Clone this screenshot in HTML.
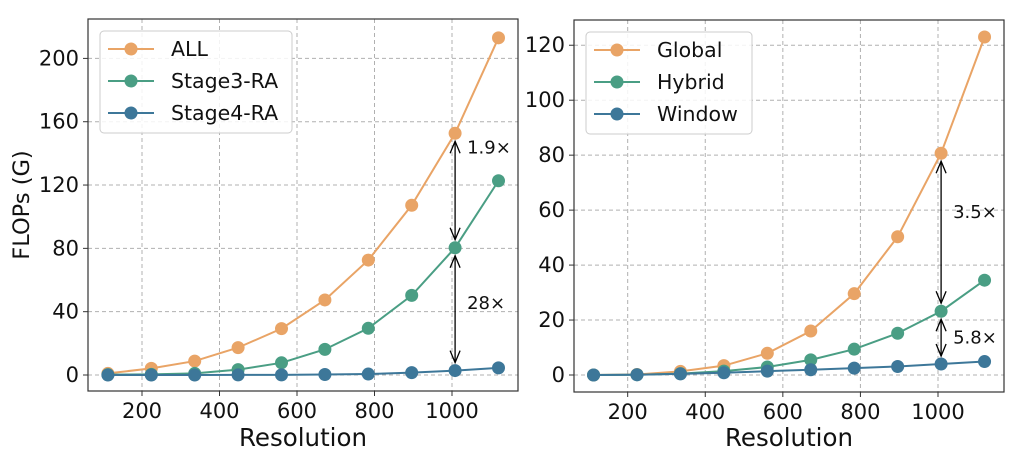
<!DOCTYPE html>
<html><head><meta charset="utf-8">
<style>
body{margin:0;background:#fff;}
svg{display:block;font-family:"DejaVu Sans","Liberation Sans",sans-serif;}
</style></head>
<body>
<svg id="chart" width="1030" height="460" viewBox="0 0 1030 460" xmlns="http://www.w3.org/2000/svg"></svg>
<script>
const resolutions=[112,224,336,448,560,672,784,896,1008,1120];
const leftAll=[1,4.2,8.8,17.3,29.3,47.4,72.6,107.2,152.7,213];
const leftStage3=[0.2,0.4,1,3.4,7.7,16.2,29.5,50.3,80.4,122.7];
const leftStage4=[0,0,0,0.05,0.1,0.3,0.6,1.5,2.8,4.5];
const rightGlobal=[0,0.2,1.3,3.4,7.9,16,29.6,50.3,80.7,123];
const rightHybrid=[0,0.1,0.5,1.4,2.9,5.5,9.4,15.2,23.2,34.5];
const rightWindow=[0,0.1,0.4,0.8,1.4,1.9,2.5,3.1,4.0,4.9];
const xTicks=[200,400,600,800,1000];
const leftYTicks=[0,40,80,120,160,200];
const rightYTicks=[0,20,40,60,80,100,120];
const leftNames=["ALL","Stage3-RA","Stage4-RA"];
const rightNames=["Global","Hybrid","Window"];
const colors=["#E9A466","#4A9E84","#3D7799"];

const svg=document.getElementById('chart');
const NS='http://www.w3.org/2000/svg';
function mk(tag,attrs,parent,text){const e=document.createElementNS(NS,tag);for(const k in attrs)e.setAttribute(k,attrs[k]);if(text!==undefined)e.textContent=text;(parent||svg).appendChild(e);return e;}

function panel(cfg){
  const g=mk('g',{});
  
  
  const xs=v=>cfg.x0+v*cfg.xk;
  const ys=v=>cfg.y0-v*cfg.yk;
  xTicks.forEach(t=>{
    const l=mk('line',{x1:xs(t),x2:xs(t),y1:cfg.top,y2:cfg.bot,stroke:'#b0b0b0','stroke-dasharray':'4,3','stroke-width':1},g);
    
    mk('line',{x1:xs(t),x2:xs(t),y1:cfg.bot,y2:cfg.bot+5,stroke:'#333'},g);
    const tx=mk('text',{x:xs(t),y:cfg.bot+27,'text-anchor':'middle','font-size':21,fill:'#111'},g,String(t));
    
  });
  cfg.yTicks.forEach(t=>{
    const l=mk('line',{x1:cfg.left,x2:cfg.right,y1:ys(t),y2:ys(t),stroke:'#b0b0b0','stroke-dasharray':'4,3','stroke-width':1},g);
    
    mk('line',{x1:cfg.left-5,x2:cfg.left,y1:ys(t),y2:ys(t),stroke:'#333'},g);
    const tx=mk('text',{x:cfg.left-9,y:ys(t)+7,'text-anchor':'end','font-size':21,fill:'#111'},g,String(t));
    
  });
  cfg.series.forEach((s,i)=>{
    const pts=resolutions.map((r,j)=>xs(r)+','+ys(s[j])).join(' ');
    const pl=mk('polyline',{points:pts,fill:'none',stroke:colors[i],'stroke-width':2},g);
    
    
    resolutions.forEach((r,j)=>{
      const c=mk('circle',{cx:xs(r),cy:ys(s[j]),r:6.5,fill:colors[i]},g);
      
      
    });
  });
  cfg.arrows.forEach(a=>{
    const x=xs(resolutions[8]);
    const y1=ys(cfg.series[a.from][8])+8,y2=ys(cfg.series[a.to][8])-8;
    const ag=mk('g',{stroke:'#000','stroke-width':1.3,fill:'none'},g);
    
    
    mk('line',{x1:x,x2:x,y1:y1,y2:y2},ag);
    mk('polyline',{points:`${x-5},${y1+12} ${x},${y1} ${x+5},${y1+12}`},ag);
    mk('polyline',{points:`${x-5},${y2-12} ${x},${y2} ${x+5},${y2-12}`},ag);
    const t=mk('text',{x:x+12,y:(y1+y2)/2+a.dy,'font-size':18,fill:'#111'},g,a.label);
    
    
  });
  const f=mk('rect',{x:cfg.left,y:cfg.top,width:cfg.right-cfg.left,height:cfg.bot-cfg.top,fill:'none',stroke:'#333','stroke-width':1.2},g);
  
  const lg=mk('g',{},g);
  
  mk('rect',{x:cfg.left+12,y:cfg.top+12,width:cfg.legW,height:102,rx:4,fill:'#fff','fill-opacity':0.85,stroke:'#ccc'},lg);
  cfg.names.forEach((n,i)=>{
    const y=cfg.top+30+i*32;
    const e=mk('g',{},lg);
    
    mk('line',{x1:cfg.left+20,x2:cfg.left+66,y1:y,y2:y,stroke:colors[i],'stroke-width':2},e);
    mk('circle',{cx:cfg.left+43,cy:y,r:6.5,fill:colors[i]},e);
    mk('text',{x:cfg.left+83,y:y+7,'font-size':20.5,fill:'#111'},e,n);
  });
  const xl=mk('text',{x:(cfg.left+cfg.right)/2,y:446,'text-anchor':'middle','font-size':24.5,fill:'#111'},g,'Resolution');
  
}

panel({name:'left-panel',left:88,right:518,top:19,bot:391,x0:64.5,xk:0.3875,y0:375,yk:1.583,yTicks:leftYTicks,
  series:[leftAll,leftStage3,leftStage4],names:leftNames,legW:192,
  arrows:[{from:0,to:1,label:'1.9×',dy:-37},{from:1,to:2,label:'28×',dy:0}]});
panel({name:'right-panel',left:574,right:1004,top:20,bot:392,x0:550.1,xk:0.3879,y0:375,yk:2.748,yTicks:rightYTicks,
  series:[rightGlobal,rightHybrid,rightWindow],names:rightNames,legW:166,
  arrows:[{from:0,to:1,label:'3.5×',dy:-14},{from:1,to:2,label:'5.8×',dy:6}]});

const yl=mk('text',{x:0,y:0,transform:'translate(29,205) rotate(-90)','text-anchor':'middle','font-size':22.5,fill:'#111'},svg,'FLOPs (G)');


</script>
</body></html>
